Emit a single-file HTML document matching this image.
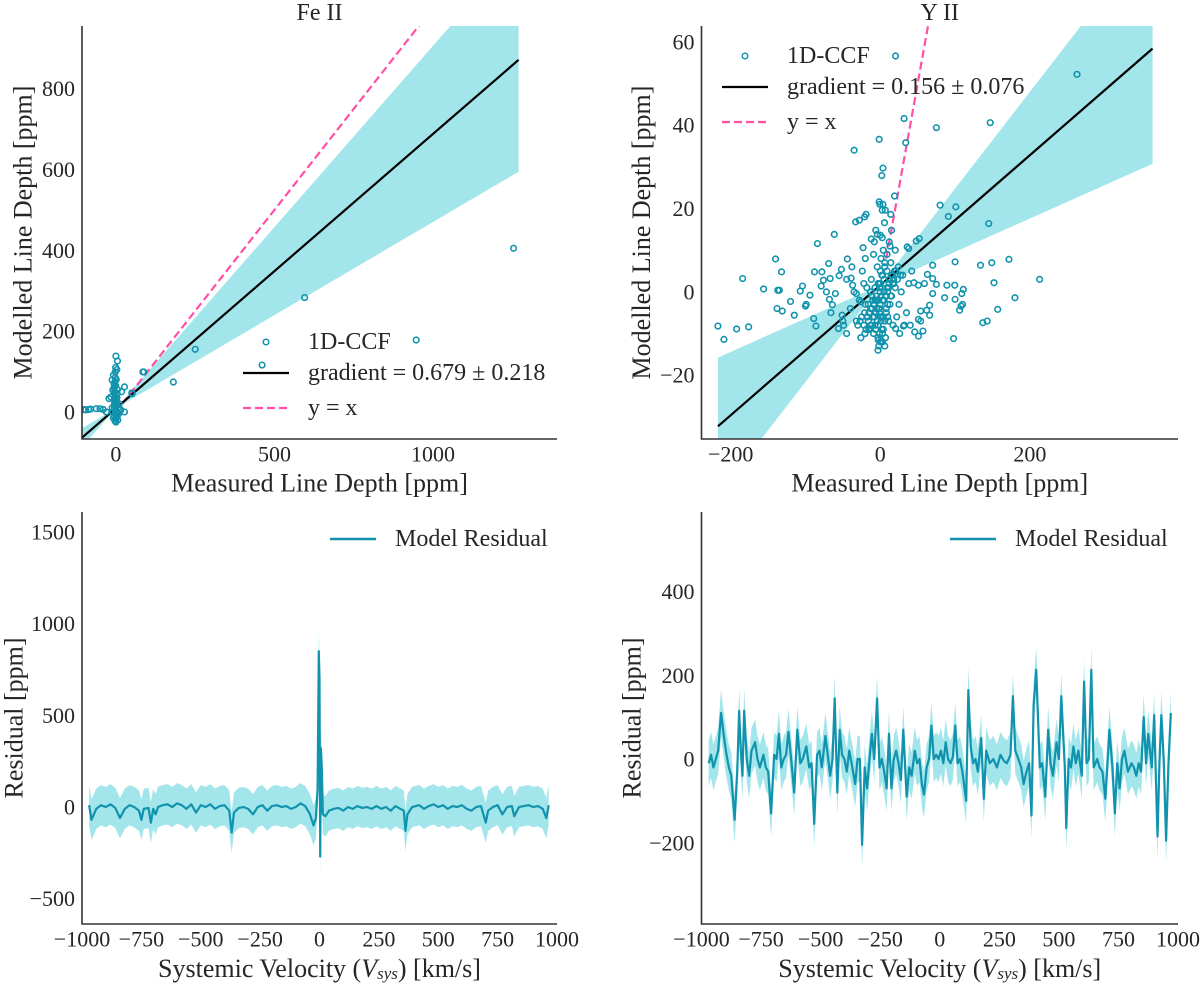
<!DOCTYPE html>
<html><head><meta charset="utf-8">
<style>
html,body{margin:0;padding:0;background:#fff;}
svg{display:block;font-family:"Liberation Serif","DejaVu Serif",serif;}
.tick{font-size:22px;fill:#262626;}
.lab{font-size:26px;fill:#262626;}
.leg{font-size:24px;fill:#262626;}
</style></head>
<body>
<svg id="fig" width="1200" height="984" viewBox="0 0 1200 984" xmlns="http://www.w3.org/2000/svg"></svg>
<script>
// ---------- DATA ----------
const feTicksX = [0, 500, 1000];
const feTicksY = [0, 200, 400, 600, 800];
const feFit = [0.679, 0.218, 9]; // gradient, sigma, intercept
const fePtsX = [1254,595,250,947,461,181,88,51,85,50,0,5,-2,-8,-12,-6,-4,-10,-16,-22,-4,2,8,-1,-6,0,6,-10,11,27,27,18,-4,-100,-86,-62,-50,-40,-30,-80,-95,-3,2,-5,4,-8,6,0,-2,3,-4,10,15,-12,8,-6,5,1,-3,-1,3,-2,1,-1,4,-4,2,0,-2,2,-3,3,0,1,-1,5,-5,7];
const fePtsY = [405,283,155,178,116,74,99,45,99,47,138,126,99,91,79,70,62,54,37,33,29,21,12,4,-8,-17,-4,0,8,62,0,50,45,6,6,8,8,6,0,7,5,20,15,10,-10,-15,-20,-25,40,35,25,20,5,10,-5,60,55,80,75,110,105,85,30,65,45,50,-12,15,-18,-14,-22,-9,-5,2,0,-2,18,-6];

const yTicksX = [-200, 0, 200];
const yTicksY = [-20, 0, 20, 40, 60];
const yFit = [0.156, 0.076, 1.6];
const yPtsX = [20.5,263,31.8,75,147,-1.5,-35,34,3.6,2,19,80,101,91,145,-1.5,-0.5,3.6,6.7,2.6,14,-19,-21,-28,-33,5.6,15,-61.5,-84,-6,-4,0,2.6,-12,-23,52,48,36,38,-140,-132,-184,-156,-137,-135,-120,-138,-131,-115,-104,-107,-94,-100,-99,-88,-78,-76,-79,-69,-67,-52,-55,-44,-89,-86,-217,-209,-192,-176,-72,-68,-66,-60,-64,-51,-49,-45,-56,-50,-39,-37,-32,-26,-20.5,-15,31,20.5,46,51,57,45,51,59,63,70,75,89,99.5,109,111,110,106,108,100,86,70,66,66,62,54,51,54,134,149,172,213,152,180,157,137,143,98,-2.6,1.5,70,100,
-20,-15,-10,-8,-5,-3,0,2,5,8,10,12,15,18,20,-18,-12,-7,-2,3,6,9,14,-25,-28,-22,-30,25,28,30,22,-6,-1,4,7,-4,1,4,-9,-14,17,-35,35,38,-40,-45,0,1,-1,3,-3,5,-5,11,-11,16,-16,24,-24,32,-32,6,-2,12,-8,20,-20,40,42,-38,26,-26,0,0,2,-2,8,-8,13,-13,
-4,-1,2,5,-7,9,-10,12,-13,15,-16,18,-19,21,-22,0,3,-3,6,-6,10,-12,14,-15,7,-9,1,-1,4,-4,11,-11,17,-17,23,-21,27,-27,0,2,-2,6,-6,9,-9,13,-13,19,-18,3,-3,8,-5,10,-7];
const yPtsY = [56.6,52.2,41.6,39.4,40.6,36.6,34,35.8,29.7,27.9,23,20.8,20.4,18.1,16.4,21.6,21,21,19.6,19.6,18.6,18.6,18,17.2,16.8,16.6,14.8,13.8,11.6,14.8,13.8,13.6,13,12.7,10.6,12.8,12.2,10.8,10.4,7.9,4.8,3.2,0.7,0.4,0.4,-2.3,-4,-4.6,-5.6,1.4,0.2,-0.8,-3.4,-3,4.8,4.8,2.8,1.4,6.8,3.2,5.4,3.9,7.9,-6.4,-8.2,-8.2,-11.4,-8.9,-8.4,0,-1.8,-5,-0.4,-3.1,-5.6,-8,-10,-8.8,-7,3.3,1.6,-0.4,-2.4,-10,-8.8,-8.2,-8.8,-9.6,-10.6,-9.4,2.2,1.6,2,4.2,3.2,1.8,1.6,1.6,-0.4,0.6,-3,-4.4,-3.4,-1.8,-1.4,-0.4,-3.2,-5.6,-4.4,-4.6,-6.6,-7,6.4,7,7.8,3,2.2,-1.4,-4.2,-7.4,-7,-11.2,-11.6,-11.8,6.4,7.2,
-3,-5,-2,-6,-4,-8,-3,-6,-2,-5,0,2,-1,3,1,1,3,1,2,4,6,5,7,-6,-2,2,-8,-3,0,4,-6,-9,-10,-9,-11,6,8,10,9,-9,-8,0,-5,2,-4,3,0,-1,1,-2,2,3,-1,-7,-1,4,-3,6,5,-8,-7,-13,-13,12,12,10,8,-8,5,6,-10,-11,5,-6,1,-2,-1,-3,-3,0,
-7,-4,-9,0,-2,1,-6,3,-4,4,-7,2,-9,5,-8,-12,-10,-11,-7,-5,-3,-8,-1,-9,-1,-3,-7,-5,-6,-2,1,-4,2,-6,3,-5,4,-7,2,4,-4,7,-9,9,-10,11,-8,5,-6,-12,-14,-4,-2,-6,-8];

const resTicksX = [-1000,-750,-500,-250,0,250,500,750,1000];
const feResTicksY = [-500,0,500,1000,1500];
const feResV = [-970,-960,-940,-920,-900,-880,-860,-840,-820,-800,-780,-760,-750,-740,-720,-710,-700,-690,-680,-660,-640,-620,-600,-580,-560,-540,-520,-500,-480,-460,-440,-420,-400,-380,-370,-360,-340,-320,-300,-280,-260,-240,-220,-200,-180,-160,-140,-120,-100,-80,-60,-40,-25,-15,-8,-3,0,3,6,10,14,25,40,60,80,100,120,140,160,180,200,220,240,260,280,300,320,340,355,362,370,390,420,440,460,480,500,520,540,560,580,600,620,640,660,680,700,710,730,750,770,790,810,820,840,860,880,900,920,940,955,965];
const feResVal = [10,-70,-10,10,0,15,-5,-60,-10,10,0,-20,-70,-10,-5,-85,-10,-40,0,10,15,0,20,10,-10,15,-30,10,0,15,-10,5,10,-20,-140,-30,-5,0,-10,-40,0,10,-20,5,10,0,5,-10,0,20,5,-40,-100,-60,100,850,700,-270,320,200,-40,-50,-20,-10,-5,-20,0,-10,5,-5,0,-10,5,-10,0,-20,5,-10,-20,-130,-40,0,10,-10,5,15,0,10,-10,5,0,10,-10,-20,0,5,-85,-20,0,10,-40,0,5,-50,0,5,10,0,5,-10,-60,10];
const feResErr = [110];

const yResTicksY = [-200,0,200,400];
const yResV = [-970,-960,-950,-940,-930,-918,-905,-895,-885,-875,-861,-850,-842,-835,-828,-821,-810,-800,-790,-775,-765,-755,-740,-730,-720,-708,-695,-685,-675,-665,-655,-645,-635,-622,-611,-598,-585,-575,-560,-548,-538,-527,-515,-505,-495,-480,-470,-460,-450,-441,-430,-420,-410,-400,-390,-380,-370,-355,-345,-335,-326,-315,-305,-295,-285,-275,-263,-253,-243,-233,-223,-213,-203,-193,-183,-173,-163,-153,-139,-128,-118,-105,-95,-85,-75,-66,-55,-45,-35,-25,-15,-5,5,15,25,35,45,55,65,75,85,95,111,120,130,140,150,160,174,185,195,210,225,240,255,270,282,297,307,317,330,342,352,364,375,385,394,405,420,430,443,455,465,475,490,500,510,525,531,541,551,561,571,582,596,606,616,626,636,646,661,671,683,695,705,712,725,735,745,755,765,775,790,805,815,825,835,845,856,866,875,890,900,914,922,930,940,950,960,970];
const yResVal = [-10,10,-20,0,20,110,50,10,-20,-40,-145,-30,115,20,-40,115,0,-40,20,40,0,-20,10,-20,-30,-130,10,0,60,-20,0,10,65,-10,-80,70,-10,0,30,-20,-10,-155,10,20,-20,55,10,-40,0,145,-80,70,10,0,-30,20,-10,-60,0,0,-205,-20,-70,0,60,0,145,-20,0,-30,-70,60,-70,0,20,-10,-50,70,-90,-20,-40,20,-10,0,-60,-85,-20,0,80,0,10,0,20,-10,40,0,-10,5,80,-10,0,-30,-100,165,30,-10,0,-30,50,-95,20,-10,0,-20,10,-5,-10,10,150,20,0,-20,-60,-30,-10,-135,130,213,-20,-10,-90,70,-10,-40,40,0,150,-20,-165,0,-20,30,-10,20,-40,185,-10,0,213,-20,0,-20,-30,-95,0,70,-20,-130,-10,-70,0,20,-30,-10,-20,-40,-10,-30,100,-10,60,-20,105,-185,-10,105,0,-195,-10,110,-40,-10];
const yResErr = [55];

// ---------- HELPERS ----------
const NS = "http://www.w3.org/2000/svg";
const fig = document.getElementById('fig');
function mk(tag, attrs, parent){ const e=document.createElementNS(NS,tag); for(const k in attrs) e.setAttribute(k,attrs[k]); (parent||fig).appendChild(e); return e; }
function scale(d0,d1,p0,p1){ return v => p0 + (v-d0)*(p1-p0)/(d1-d0); }

const TEAL='#1193ad', BAND='#a2e5eb', PINK='#ff4fa6', AX='#333333';

function axes(id, L, R, T, B, sx, sy, xt, yt, xlabelTxt, ylabel, ylabX){
  const g = mk('g',{});
  
  
  const cp = mk('clipPath',{id:id+'-clip'},g);
  mk('rect',{x:L,y:T,width:R-L,height:B-T},cp);
  const plot = mk('g',{'clip-path':'url(#'+id+'-clip)'},g);
  
  
  const sp = mk('path',{d:`M${L},${T} L${L},${B} L${R},${B}`,fill:'none',stroke:AX,'stroke-width':1.6},g);
  
  
  xt.forEach(v=>{ const t=mk('text',{x:sx(v),y:B+15,'text-anchor':'middle','dominant-baseline':'central',class:'tick'},g); t.textContent=String(v).replace('-','\u2212');
    
     });
  yt.forEach(v=>{ const t=mk('text',{x:L-7,y:sy(v),'text-anchor':'end','dominant-baseline':'central',class:'tick'},g); t.textContent=String(v).replace('-','\u2212');
    
     });
  const xl = mk('text',{x:(L+R)/2,y:B+44,'text-anchor':'middle','dominant-baseline':'central',class:'lab'},g);
  if (typeof xlabelTxt==='string') xl.textContent=xlabelTxt; else xlabelTxt(xl);
  
  
  const yc=(T+B)/2;
  const yl = mk('text',{x:ylabX,y:yc,'text-anchor':'middle','dominant-baseline':'central',class:'lab',transform:`rotate(-90 ${ylabX} ${yc})`},g);
  yl.textContent=ylabel;
  
  
  return plot;
}

function scatterPanel(id, L,R,T,B, xd, yd, xt, yt, fit, xs, ys, fitX, xeq, title, legX, legY){
  const sx=scale(xd[0],xd[1],L,R), sy=scale(yd[0],yd[1],B,T);
  const tt=mk('text',{x:(L+R)/2,y:13,'text-anchor':'middle','dominant-baseline':'central',class:'leg'}); tt.textContent=title;
  
  
  const plot=axes(id,L,R,T,B,sx,sy,xt,yt,'Measured Line Depth [ppm]','Modelled Line Depth [ppm]', L-(id==='fe'?59:60));
  const [g,s,b]=fit, x0=fitX[0], x1=fitX[1];
  const f=(x,m)=>b+m*x;
  const band=mk('polygon',{points:`${sx(x0)},${sy(f(x0,g+s))} ${sx(x1)},${sy(f(x1,g+s))} ${sx(x1)},${sy(f(x1,g-s))} ${sx(x0)},${sy(f(x0,g-s))}`,fill:BAND,stroke:'none'},plot);
  
  
  const eq=mk('line',{x1:sx(xeq[0]),y1:sy(xeq[0]),x2:sx(xeq[1]),y2:sy(xeq[1]),stroke:PINK,'stroke-width':2.2,'stroke-dasharray':'8,4'},plot);
  
  
  const fl=mk('line',{x1:sx(x0),y1:sy(f(x0,g)),x2:sx(x1),y2:sy(f(x1,g)),stroke:'#000','stroke-width':2.2},plot);
  
  
  for(let i=0;i<xs.length;i++){
    const c=mk('circle',{cx:sx(xs[i]),cy:sy(ys[i]),r:2.8,fill:'none',stroke:TEAL,'stroke-width':1.6},plot);
    
    
  }
  const lg=mk('g',{});
  
  
  const hx=legX, tx=legX+65;
  const m=mk('circle',{cx:hx+23,cy:legY,r:2.8,fill:'none',stroke:TEAL,'stroke-width':1.5},lg);
  
  
  const t1=mk('text',{x:tx,y:legY,'dominant-baseline':'central',class:'leg'},lg); t1.textContent='1D-CCF';
  
  
  mk('line',{x1:hx,y1:legY+31,x2:hx+46,y2:legY+31,stroke:'#000','stroke-width':2.2},lg);
  const t2=mk('text',{x:tx,y:legY+31,'dominant-baseline':'central',class:'leg'},lg); t2.textContent='gradient = '+g.toFixed(3)+' \u00b1 '+s.toFixed(3);
  
  
  mk('line',{x1:hx,y1:legY+66,x2:hx+46,y2:legY+66,stroke:PINK,'stroke-width':2.2,'stroke-dasharray':'8,4'},lg);
  const t3=mk('text',{x:tx,y:legY+66,'dominant-baseline':'central',class:'leg'},lg); t3.textContent='y = x';
  
  
}

function vsysLabel(el){
  const a=document.createElementNS(NS,'tspan'); a.textContent='Systemic Velocity ('; el.appendChild(a);
  const b=document.createElementNS(NS,'tspan'); b.setAttribute('font-style','italic'); b.textContent='V'; el.appendChild(b);
  const c=document.createElementNS(NS,'tspan'); c.setAttribute('font-style','italic'); c.setAttribute('font-size','17'); c.setAttribute('dy','5'); c.textContent='sys'; el.appendChild(c);
  const d=document.createElementNS(NS,'tspan'); d.setAttribute('dy','-5'); d.textContent=') [km/s]'; el.appendChild(d);
}

function residPanel(id, L,R,T,B, yd, yt, vs, vals, err, legX, ylabX){
  const sx=scale(-1000,1000,L,R), sy=scale(yd[0],yd[1],B,T);
  const plot=axes(id,L,R,T,B,sx,sy,resTicksX,yt,vsysLabel,'Residual [ppm]',ylabX);
  let up='', lo='';
  for(let i=0;i<vs.length;i++){ up+=`${sx(vs[i])},${sy(vals[i]+err[0])} `; }
  for(let i=vs.length-1;i>=0;i--){ lo+=`${sx(vs[i])},${sy(vals[i]-err[0])} `; }
  const band=mk('polygon',{points:up+lo,fill:BAND,stroke:'none'},plot);
  
  
  let d='';
  vs.forEach((v,i)=>{ d+=(i?'L':'M')+sx(v)+','+sy(vals[i]); });
  const ln=mk('path',{d:d,fill:'none',stroke:TEAL,'stroke-width':2.2,'stroke-linejoin':'round'},plot);
  
  
  const lg=mk('g',{});
  
  
  mk('line',{x1:legX,y1:539,x2:legX+46,y2:539,stroke:TEAL,'stroke-width':2.5},lg);
  const t=mk('text',{x:legX+65,y:539,'dominant-baseline':'central',class:'leg'},lg); t.textContent='Model Residual';
  
  
}

scatterPanel('fe', 82,557,26,439, [-107,1391],[-67,955], feTicksX, feTicksY, feFit, fePtsX, fePtsY, [-107,1270],[20,960],'Fe II', 243, 342);
scatterPanel('y2', 701.5,1178,26,439, [-239,398],[-35.3,63.8], yTicksX, yTicksY, yFit, yPtsX, yPtsY, [-217,364],[8,66],'Y II', 722, 56);
residPanel('fe-res', 82,557,512,924, [-638,1609], feResTicksY, feResV, feResVal, feResErr, 330, 14);
residPanel('y2-res', 701.5,1178,512,924, [-394,590], yResTicksY, yResV, yResVal, yResErr, 950, 632);
</script>
</body></html>
